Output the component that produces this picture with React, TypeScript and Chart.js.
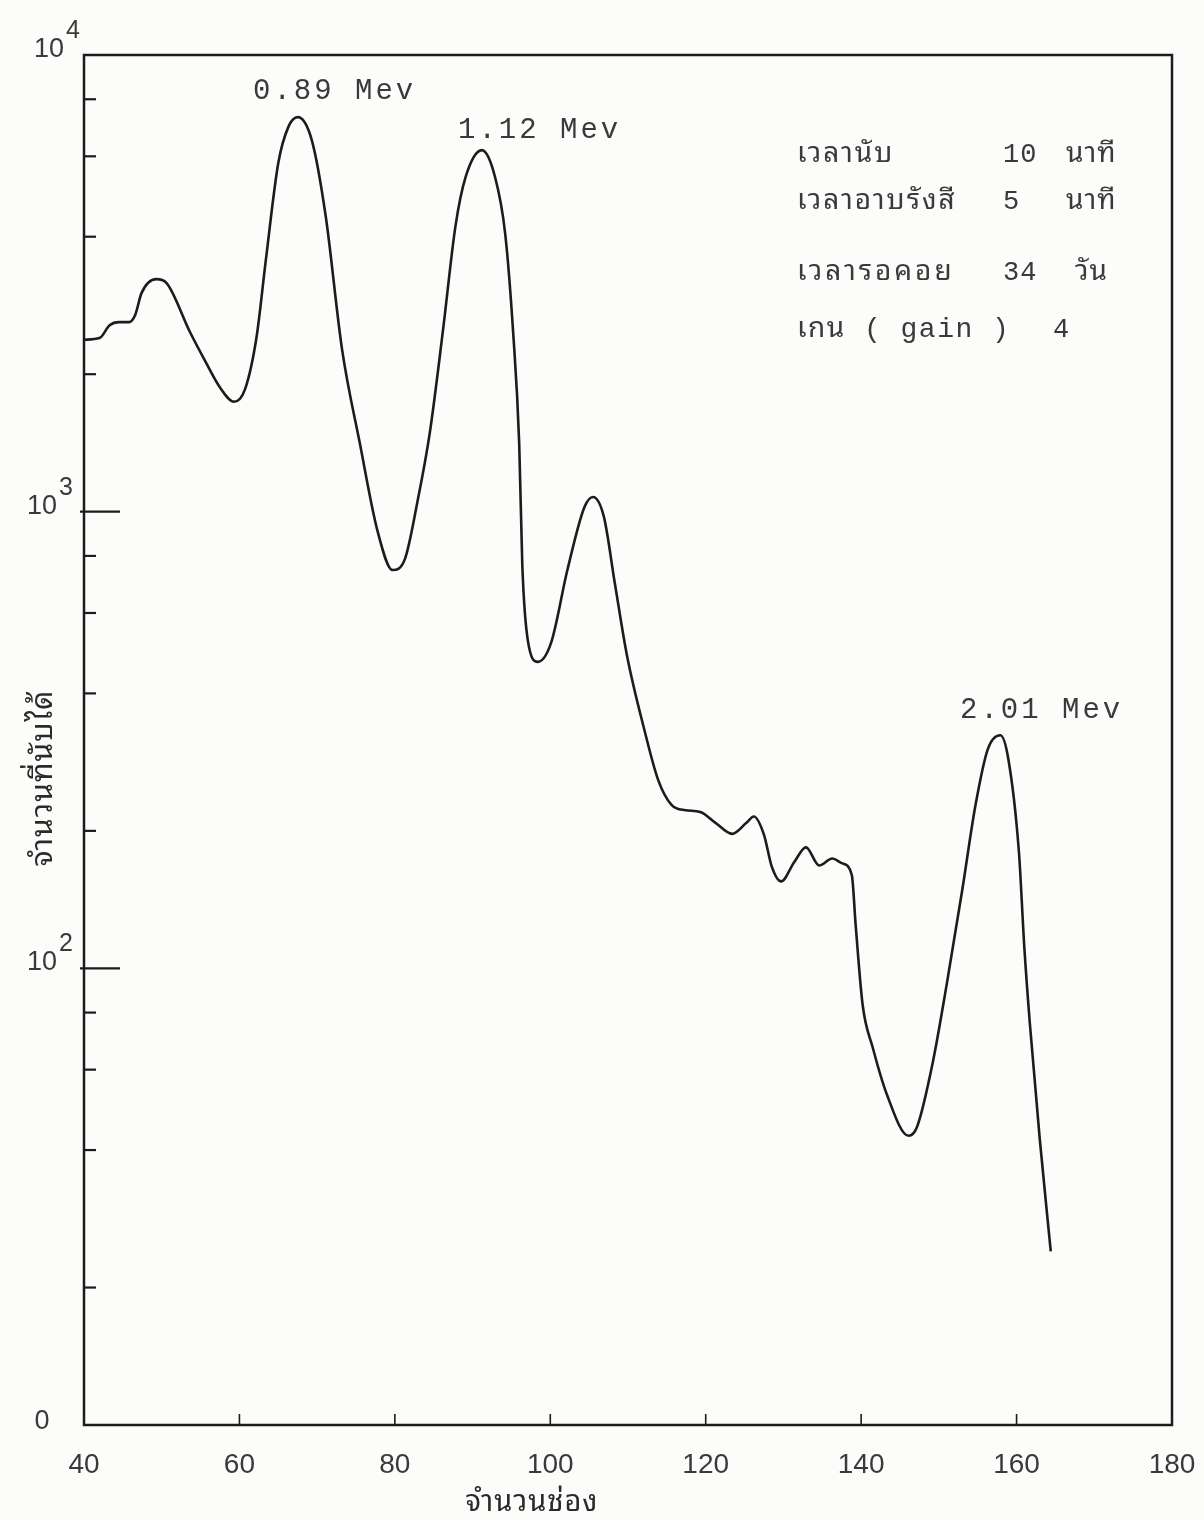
import React, { useEffect, useRef } from "react";
import { Chart, registerables } from "chart.js";

Chart.register(...registerables);

// จำนวนช่อง (channel number)
const channels = [
  40, 42.0, 43.3, 44.5, 45.8, 46.6, 47.4, 49.3, 50.6, 53.6,
  55.7, 57.5, 59.3, 60.7, 62.2, 63.4, 65.0, 66.3, 67.5, 69.3,
  71.1, 73.2, 75.5, 77.8, 79.7, 81.3, 82.9, 84.5, 86.2, 87.8,
  89.1, 91.2, 92.9, 94.2, 95.2, 96.0, 96.4, 97.1, 98.4, 100.1,
  102.2, 104.4, 105.5, 106.9, 108.3, 109.9, 112.2, 113.9, 115.6, 117.4,
  119.3, 121.3, 123.4, 125.2, 126.2, 127.5, 128.5, 129.7, 131.4, 132.9,
  134.6, 136.3, 137.5, 138.8, 139.3, 140.2, 141.5, 143.3, 146.1, 147.2,
  149.2, 151.0, 153.0, 154.7, 156.3, 157.9, 158.9, 160.3, 161.0, 161.7,
  163.0, 164.4,
];

// จำนวนที่นับได้ (counts)
const counts = [
  2380, 2400, 2560, 2600, 2600, 2700, 3010, 3230, 3170, 2480,
  2120, 1870, 1740, 1850, 2410, 3560, 5800, 6960, 7310, 6520,
  4440, 2270, 1410, 903, 745, 788, 1050, 1490, 2500, 4220,
  5400, 6190, 5400, 4060, 2500, 1410, 764, 524, 469, 516,
  745, 1024, 1077, 974, 698, 481, 328, 258, 228, 222,
  220, 208, 197, 208, 215, 196, 167, 155, 171, 184,
  168, 174, 170, 160, 124, 83, 67, 53, 43, 45,
  62, 92, 148, 227, 302, 324, 290, 180, 111, 76,
  42, 24,
];

const xTickValues = [40, 60, 80, 100, 120, 140, 160, 180];
const yMajorValues = [10000, 1000, 100];
const yMajorExponents = ["4", "3", "2"];
const yMinorValues = [8000, 6000, 4000, 2000, 800, 600, 400, 200, 80, 60, 40, 20];
const yBottomLabel = "0";
const peakLabels = ["0.89 Mev", "1.12 Mev", "2.01 Mev"];
const infoLabels = ["เวลานับ", "เวลาอาบรังสี", "เวลารอคอย", "เกน ( gain )"];
const infoValues = ["10", "5", "34", "4"];
const infoUnits = ["นาที", "นาที", "วัน", ""];
const xTitle = "จำนวนช่อง";
const yTitle = "จำนวนที่นับได้";

const INK = "#1c1c1c";
const TYPE = "#3a3a3a";
const THAI =
  "'Tlwg Typist', 'TlwgTypist', 'Noto Sans Thai Looped', 'Noto Serif Thai', 'Noto Sans Thai', 'Loma', 'Garuda', 'DejaVu Sans', sans-serif";
const MONO_THAI = `'Liberation Mono', ${THAI}`;

const overlay = {
  id: "overlay",
  beforeDraw(chart: any) {
    const { ctx, width, height } = chart;
    ctx.save();
    ctx.fillStyle = "#fcfcfb";
    ctx.fillRect(0, 0, width, height);
    ctx.restore();
  },
  afterDraw(chart: any) {
    const { ctx, chartArea: a, scales } = chart;
    const x = scales.x;
    const y = scales.y;
    const c = ctx as any;
    ctx.save();
    ctx.strokeStyle = INK;
    ctx.lineWidth = 2.5;
    ctx.strokeRect(a.left, a.top, a.right - a.left, a.bottom - a.top);

    // y major / minor ticks (pointing inward)
    ctx.lineWidth = 2.2;
    yMajorValues.forEach((v) => {
      if (v >= 10000) return;
      const py = y.getPixelForValue(v);
      ctx.beginPath();
      ctx.moveTo(a.left - 4, py);
      ctx.lineTo(a.left + 36, py);
      ctx.stroke();
    });
    yMinorValues.forEach((v) => {
      const py = y.getPixelForValue(v);
      ctx.beginPath();
      ctx.moveTo(a.left, py);
      ctx.lineTo(a.left + 12, py);
      ctx.stroke();
    });
    // x ticks (pointing up) and labels
    ctx.lineWidth = 1.6;
    ctx.fillStyle = TYPE;
    ctx.font = "28px 'Liberation Sans', Arial, sans-serif";
    ctx.textAlign = "center";
    ctx.textBaseline = "middle";
    xTickValues.forEach((v) => {
      const px = x.getPixelForValue(v);
      if (v !== 40 && v !== 180) {
        ctx.beginPath();
        ctx.moveTo(px, a.bottom);
        ctx.lineTo(px, a.bottom - 11);
        ctx.stroke();
      }
      ctx.fillText(String(v), px, a.bottom + 40);
    });

    // y labels 10^n
    ctx.textBaseline = "alphabetic";
    yMajorValues.forEach((v, i) => {
      const py = y.getPixelForValue(v);
      const shift = v >= 10000 ? 7 : 0;
      ctx.font = "27px 'Liberation Sans', Arial, sans-serif";
      ctx.textAlign = "right";
      ctx.fillText("10", a.left - 27 + shift, py + 2);
      ctx.textAlign = "left";
      ctx.font = "25px 'Liberation Sans', Arial, sans-serif";
      ctx.fillText(yMajorExponents[i], a.left - 25 + shift, py - 17);
    });
    ctx.font = "27px 'Liberation Sans', Arial, sans-serif";
    ctx.textAlign = "center";
    ctx.fillText(yBottomLabel, a.left - 42, y.getPixelForValue(10) + 4);

    // y axis title (rotated)
    ctx.save();
    ctx.translate(44, 778);
    ctx.rotate(-Math.PI / 2);
    ctx.textAlign = "center";
    ctx.textBaseline = "middle";
    ctx.font = `30px ${THAI}`;
    c.letterSpacing = "1px";
    ctx.fillStyle = "#2a2a2a";
    ctx.fillText(yTitle, 0, 0);
    ctx.restore();

    // x axis title
    ctx.save();
    ctx.textAlign = "center";
    ctx.textBaseline = "middle";
    ctx.font = `29px ${THAI}`;
    c.letterSpacing = "1px";
    ctx.fillStyle = "#2a2a2a";
    ctx.fillText(xTitle, 532, 1503);
    ctx.restore();

    // peak labels
    ctx.font = "29px 'Liberation Mono', 'Courier New', monospace";
    ctx.textAlign = "left";
    ctx.fillStyle = TYPE;
    c.letterSpacing = "3px";
    const peakPos = [
      [253, 99],
      [458, 138],
      [960, 718],
    ];
    peakLabels.forEach((t, i) => ctx.fillText(t, peakPos[i][0], peakPos[i][1]));

    // info block
    const rows = [162, 209, 280, 337];
    const labelSpacing = ["2px", "2px", "3px", "1.5px"];
    infoLabels.forEach((t, i) => {
      ctx.font = `28px ${MONO_THAI}`;
      c.letterSpacing = labelSpacing[i];
      ctx.textAlign = "left";
      ctx.fillText(t, 797, rows[i]);
      c.letterSpacing = "1px";
      const valX = i === 3 ? 1053 : 1003;
      ctx.font = "27px 'Liberation Mono', monospace";
      ctx.fillText(infoValues[i], valX, rows[i]);
      if (infoUnits[i]) {
        ctx.font = `28px ${THAI}`;
        c.letterSpacing = "1px";
        ctx.fillText(infoUnits[i], i === 2 ? 1075 : 1066, rows[i]);
      }
    });
    c.letterSpacing = "0px";
    ctx.restore();
  },
};

export default function App() {
  const ref = useRef<HTMLCanvasElement | null>(null);
  useEffect(() => {
    if (!ref.current) return;
    const chart = new Chart(ref.current, {
      type: "line",
      data: {
        datasets: [
          {
            data: channels.map((c, i) => ({ x: c, y: counts[i] })),
            borderColor: INK,
            borderWidth: 2.6,
            pointRadius: 0,
            fill: false,
            tension: 0.4,
            cubicInterpolationMode: "monotone",
          },
        ],
      },
      options: {
        responsive: false,
        animation: false,
        events: [],
        layout: { padding: { left: 84, right: 32, top: 55, bottom: 0 } },
        plugins: { legend: { display: false }, tooltip: { enabled: false } },
        scales: {
          x: {
            type: "linear",
            min: 40,
            max: 180,
            afterFit: (s: any) => {
              s.height = 96;
            },
            grid: { display: false, drawTicks: false },
            border: { display: false },
            ticks: { display: false, stepSize: 20 },
            title: { display: false },
          },
          y: {
            type: "logarithmic",
            min: 10,
            max: 10000,
            display: false,
          },
        },
      },
      plugins: [overlay],
    } as any);
    return () => chart.destroy();
  }, []);
  return (
    <div style={{ position: "absolute", left: 0, top: 0, width: 1204, height: 1521 }}>
      <canvas ref={ref} width={1204} height={1521} style={{ width: 1204, height: 1521, display: "block" }} />
    </div>
  );
}
